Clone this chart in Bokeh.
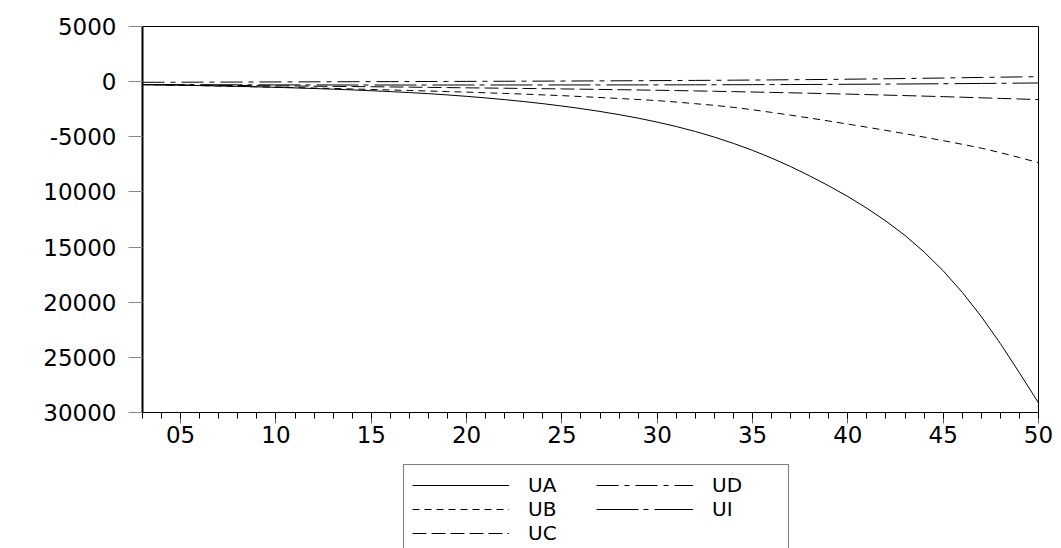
from bokeh.plotting import figure
from bokeh.layouts import column
from bokeh.models import FixedTicker, Range1d, Legend, LegendItem
from bokeh.embed import file_html
from bokeh.resources import INLINE

years = list(range(2003, 2051))

ua = [-270, -296, -325, -357, -392, -430, -472, -518, -568, -623,
      -684, -750, -823, -903, -991, -1090, -1205, -1333, -1475, -1632,
      -1805, -1997, -2209, -2444, -2704, -2991, -3309, -3670, -4070, -4520,
      -5030, -5600, -6230, -6930, -7700, -8550, -9450, -10420, -11480, -12650,
      -13950, -15450, -17150, -19100, -21300, -23750, -26400, -29130]

ub = [-270, -300, -330, -360, -395, -430, -465, -500, -540, -580,
      -620, -665, -710, -755, -800, -850, -900, -950, -1010, -1070,
      -1130, -1200, -1270, -1350, -1440, -1530, -1620, -1720, -1850, -2000,
      -2150, -2330, -2550, -2790, -3040, -3300, -3570, -3850, -4130, -4420,
      -4720, -5030, -5350, -5680, -6030, -6440, -6880, -7350]

uc = [-270, -285, -300, -316, -332, -348, -364, -380, -396, -412,
      -428, -444, -460, -479, -498, -518, -539, -560, -579, -598,
      -618, -639, -660, -683, -706, -730, -755, -780, -810, -840,
      -872, -905, -940, -976, -1013, -1051, -1090, -1130, -1174, -1219,
      -1265, -1312, -1360, -1412, -1465, -1519, -1574, -1630]

ud = [-60, -56, -52, -47, -42, -37, -32, -27, -22, -17,
      -12, -7, -2, 3, 8, 13, 18, 24, 30, 36,
      42, 48, 55, 62, 69, 77, 85, 93, 102, 112,
      122, 133, 145, 158, 172, 187, 203, 220, 240, 261,
      283, 306, 330, 355, 381, 408, 428, 452]

ui = [-265, -270, -275, -279, -283, -287, -291, -295, -297, -299,
      -301, -303, -305, -305, -306, -306, -306, -305, -304, -303,
      -302, -301, -300, -299, -298, -297, -296, -294, -291, -287,
      -283, -279, -274, -268, -262, -255, -248, -240, -231, -222,
      -212, -201, -190, -177, -164, -150, -135, -120]

x_ticks = [2005, 2010, 2015, 2020, 2025, 2030, 2035, 2040, 2045, 2050]
x_labels = ["05", "10", "15", "20", "25", "30", "35", "40", "45", "50"]
y_ticks = [5000, 0, -5000, -10000, -15000, -20000, -25000, -30000]
y_labels = ["5000", "0", "-5000", "10000", "15000", "20000", "25000", "30000"]

series = [("UA", ua, None), ("UB", ub, "7 5"), ("UC", uc, "14 5"),
          ("UD", ud, "22 6 5 6"), ("UI", ui, "42 5 5 6")]

FONT = "DejaVu Sans"

p = figure(width=1061, height=460, output_backend="svg", toolbar_location=None,
           x_range=Range1d(2003, 2050), y_range=Range1d(-30000, 5000),
           min_border_left=142, min_border_right=23, min_border_top=26,
           min_border_bottom=48)
p.xgrid.visible = False
p.ygrid.visible = False
p.outline_line_color = "black"
p.outline_line_width = 1
p.background_fill_color = "white"
p.border_fill_color = "white"

renderers = []
for name, vals, dash in series:
    if dash is None:
        r = p.line(years, vals, line_color="black", line_width=1)
    else:
        r = p.line(years, vals, line_color="black", line_width=1, line_dash=dash)
    renderers.append((name, r))

xa = p.xaxis[0]
xa.ticker = FixedTicker(ticks=x_ticks, minor_ticks=years)
xa.major_label_overrides = {t: l for t, l in zip(x_ticks, x_labels)}
xa.major_tick_in = 0
xa.major_tick_out = 11
xa.minor_tick_in = 0
xa.minor_tick_out = 6
xa.major_tick_line_color = "#666666"
xa.minor_tick_line_color = "black"
xa.axis_line_color = "black"
xa.major_label_standoff = 2
xa.major_label_text_font = FONT
xa.major_label_text_font_size = "23px"
xa.major_label_text_color = "black"

ya = p.yaxis[0]
ya.ticker = FixedTicker(ticks=y_ticks, minor_ticks=[])
ya.major_label_overrides = {t: l for t, l in zip(y_ticks, y_labels)}
ya.major_tick_in = 0
ya.major_tick_out = 14
ya.major_tick_line_color = "#888888"
ya.axis_line_color = "black"
ya.axis_line_width = 2
ya.major_label_standoff = 12
ya.major_label_text_font = FONT
ya.major_label_text_font_size = "23px"
ya.major_label_text_color = "black"

# legend strip below the chart (its frame clips the box at the bottom edge)
lf = figure(width=1061, height=88, output_backend="svg", toolbar_location=None,
            x_axis_location=None, y_axis_location=None,
            x_range=Range1d(0, 1), y_range=Range1d(0, 1),
            min_border_left=0, min_border_right=0, min_border_top=0,
            min_border_bottom=0)
lf.xgrid.visible = False
lf.ygrid.visible = False
lf.outline_line_color = None
lf.background_fill_color = "white"
lf.border_fill_color = "white"

items = []
for name, vals, dash in series:
    # sample renderers for the legend keys, kept outside the strip's visible range
    if dash is None:
        r = lf.line(years[:2], vals[:2], line_color="black", line_width=1)
    else:
        r = lf.line(years[:2], vals[:2], line_color="black", line_width=1, line_dash=dash)
    items.append(LegendItem(label=name, renderers=[r]))

legend = Legend(
    items=items, location=(261, -6), orientation="vertical", nrows=3,
    border_line_color="black", border_line_width=1,
    background_fill_color="white", background_fill_alpha=1,
    label_text_font=FONT, label_text_font_size="20px", label_text_color="black",
    glyph_width=97, glyph_height=20, label_standoff=19, label_width=68,
    label_height=23, spacing=0, padding=8, margin=0,
)
lf.add_layout(legend)

layout = column(p, lf, spacing=0)
open("out.html", "w").write(file_html(layout, INLINE))
